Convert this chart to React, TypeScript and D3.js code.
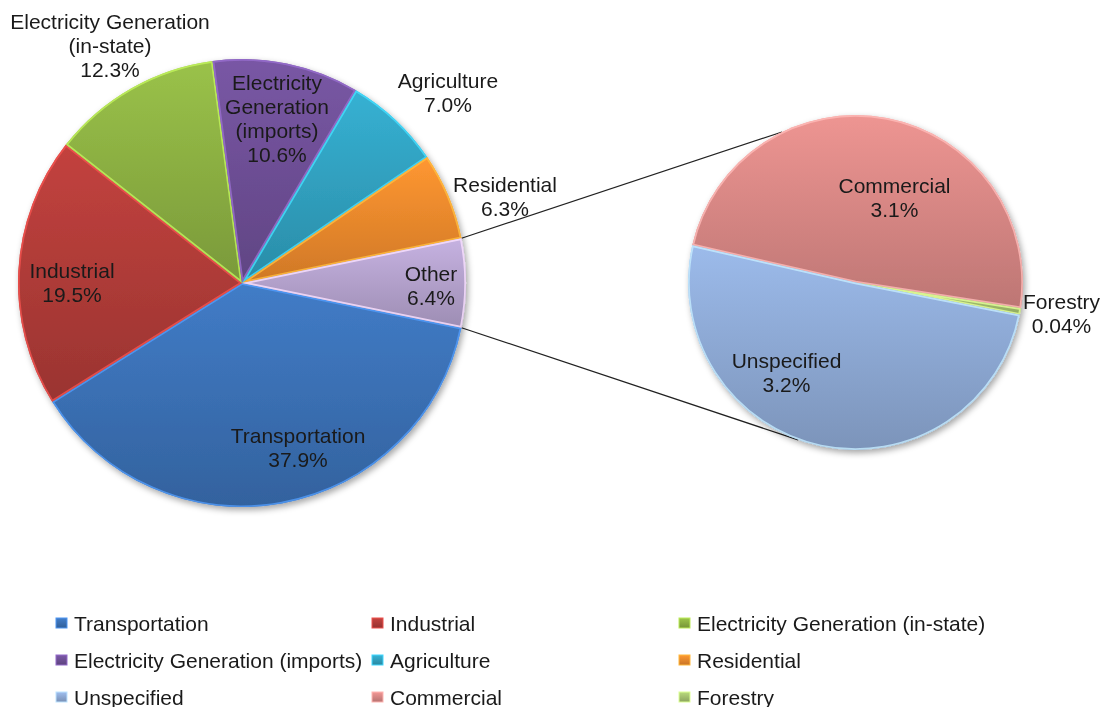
import { useEffect, useRef } from "react";
import * as d3 from "d3";

// main pie, clockwise from the end of "Other"
const mainNames = [
  "Transportation",
  "Industrial",
  "Electricity Generation (in-state)",
  "Electricity Generation (imports)",
  "Agriculture",
  "Residential",
  "Other",
];
const mainValues = [37.9, 19.5, 12.3, 10.6, 7.0, 6.3, 6.4];
const mainColors = ["#3b71b6", "#b23c39", "#8db143", "#6f5097", "#31a2c1", "#ef8a2d", "#b5a3ce"];
const mainLabelLines = [
  ["Transportation"],
  ["Industrial"],
  ["Electricity Generation", "(in-state)"],
  ["Electricity", "Generation", "(imports)"],
  ["Agriculture"],
  ["Residential"],
  ["Other"],
];

// breakdown of "Other"
const subNames = ["Commercial", "Forestry", "Unspecified"];
const subValues = [3.1, 0.04, 3.2];
const subColors = ["#da8886", "#a6c470", "#8fabd7"];
const subLabelLines = [["Commercial"], ["Forestry"], ["Unspecified"]];

const legendNames = [
  "Transportation",
  "Industrial",
  "Electricity Generation (in-state)",
  "Electricity Generation (imports)",
  "Agriculture",
  "Residential",
  "Unspecified",
  "Commercial",
  "Forestry",
];

// label block centres, offset from each pie's centre (px)
const mainLabelOffsets = [[56, 165], [-170, 0], [-132, -237], [35, -164], [206, -190], [263, -86], [189, 3]];
const subLabelOffsets = [[39, -85], [206, 31], [-69, 90]];

const W = 1109;
const H = 707;
const MAIN = { cx: 242, cy: 283, r: 224 };
const SUB = { cx: 855.5, cy: 282.5, r: 167.5 };
const FONT = "'Liberation Sans', Arial, sans-serif";
const FS = 21;
const LINE = 24;
const TEXT = "#1a1a1a";

const fmt = (v) => (v < 0.1 ? v.toFixed(2) : v.toFixed(1)) + "%";
const deg = (d) => (d * Math.PI) / 180;
const polar = (c, r, a) => [c.cx + r * Math.sin(a), c.cy - r * Math.cos(a)];

const App = () => {
  const svgRef = useRef(null);

  useEffect(() => {
    const svg = d3.select(svgRef.current);
    svg.selectAll("*").remove();
    const defs = svg.append("defs");

    const f = defs
      .append("filter")
      .attr("id", "shadow")
      .attr("x", "-10%")
      .attr("y", "-10%")
      .attr("width", "125%")
      .attr("height", "125%");
    f.append("feDropShadow")
      .attr("dx", 2)
      .attr("dy", 3)
      .attr("stdDeviation", 3)
      .attr("flood-color", "#000")
      .attr("flood-opacity", 0.35);

    const drawPie = (arcs, colors, c, prefix) => {
      const arc = d3.arc().innerRadius(0).outerRadius(c.r);
      const g = svg
        .append("g")
        .attr("transform", `translate(${c.cx},${c.cy})`)
        .attr("filter", "url(#shadow)");

      arcs.forEach((a, i) => {
        const base = d3.color(colors[i]);
        const grad = defs
          .append("linearGradient")
          .attr("id", `${prefix}g${i}`)
          .attr("x1", 0)
          .attr("y1", 0)
          .attr("x2", 0)
          .attr("y2", 1);
        grad.append("stop").attr("offset", "0%").attr("stop-color", base.brighter(0.25).formatHex());
        grad.append("stop").attr("offset", "100%").attr("stop-color", base.darker(0.4).formatHex());
        defs.append("clipPath").attr("id", `${prefix}c${i}`).append("path").attr("d", arc(a));

        g.append("path").attr("d", arc(a)).attr("fill", `url(#${prefix}g${i})`);
        // soft bevel: light inner rim
        g.append("path")
          .attr("d", arc(a))
          .attr("fill", "none")
          .attr("stroke", base.brighter(0.9).formatHex())
          .attr("stroke-opacity", 0.8)
          .attr("stroke-width", 3.5)
          .attr("clip-path", `url(#${prefix}c${i})`);
      });
    };

    const drawLabels = (lines, values, offsets, c) => {
      lines.forEach((ls, i) => {
        const all = [...ls, fmt(values[i])];
        const [dx, dy] = offsets[i];
        const y0 = c.cy + dy - ((all.length - 1) * LINE) / 2 + 7;
        const t = svg
          .append("text")
          .attr("text-anchor", "middle")
          .attr("font-family", FONT)
          .attr("font-size", FS)
          .attr("fill", TEXT);
        all.forEach((s, j) => {
          t.append("tspan")
            .attr("x", c.cx + dx)
            .attr("y", y0 + j * LINE)
            .text(s);
        });
      });
    };

    // main pie: "Other" centred at 3 o'clock
    const total = d3.sum(mainValues);
    const otherIdx = mainNames.indexOf("Other");
    const start = Math.PI / 2 + (mainValues[otherIdx] / total) * Math.PI;
    const mainArcs = d3
      .pie()
      .sort(null)
      .startAngle(start)
      .endAngle(start + 2 * Math.PI)(mainValues);

    // secondary pie: forestry sliver just below 3 o'clock
    const subTotal = d3.sum(subValues);
    const subStart = deg(100) - ((subValues[0] + subValues[1] / 2) / subTotal) * 2 * Math.PI;
    const subArcs = d3
      .pie()
      .sort(null)
      .startAngle(subStart)
      .endAngle(subStart + 2 * Math.PI)(subValues);

    // connector lines
    const oa = mainArcs[otherIdx];
    const links = [
      [polar(MAIN, MAIN.r, oa.startAngle), polar(SUB, SUB.r, deg(-26))],
      [polar(MAIN, MAIN.r, oa.endAngle), polar(SUB, SUB.r, deg(200))],
    ];
    links.forEach(([p, q]) => {
      svg
        .append("line")
        .attr("x1", p[0])
        .attr("y1", p[1])
        .attr("x2", q[0])
        .attr("y2", q[1])
        .attr("stroke", "#222")
        .attr("stroke-width", 1.2);
    });

    drawPie(mainArcs, mainColors, MAIN, "m");
    drawPie(subArcs, subColors, SUB, "s");
    drawLabels(mainLabelLines, mainValues, mainLabelOffsets, MAIN);
    drawLabels(subLabelLines, subValues, subLabelOffsets, SUB);

    // legend, 3 columns
    const colX = [56, 372, 679];
    const rowY = d3.scaleLinear().domain([0, 1]).range([618, 655]);
    legendNames.forEach((name, i) => {
      const x = colX[i % 3];
      const y = rowY(Math.floor(i / 3));
      const mi = mainNames.indexOf(name);
      const col = mi >= 0 ? mainColors[mi] : subColors[subNames.indexOf(name)];
      const base = d3.color(col);
      const gid = `lg${i}`;
      const grad = defs
        .append("linearGradient")
        .attr("id", gid)
        .attr("x1", 0)
        .attr("y1", 0)
        .attr("x2", 0)
        .attr("y2", 1);
      grad.append("stop").attr("offset", "0%").attr("stop-color", base.brighter(0.3).formatHex());
      grad.append("stop").attr("offset", "100%").attr("stop-color", base.darker(0.5).formatHex());
      svg
        .append("rect")
        .attr("x", x)
        .attr("y", y)
        .attr("width", 11)
        .attr("height", 10)
        .attr("fill", `url(#${gid})`)
        .attr("stroke", base.brighter(0.8).formatHex())
        .attr("stroke-width", 1);
      svg
        .append("text")
        .attr("x", x + 18)
        .attr("y", y + 12.5)
        .attr("font-family", FONT)
        .attr("font-size", FS)
        .attr("fill", TEXT)
        .text(name);
    });
  }, []);

  return (
    <svg
      ref={svgRef}
      width={W}
      height={H}
      style={{ position: "absolute", left: 0, top: 0, background: "#fff" }}
    ></svg>
  );
};

export default App;
